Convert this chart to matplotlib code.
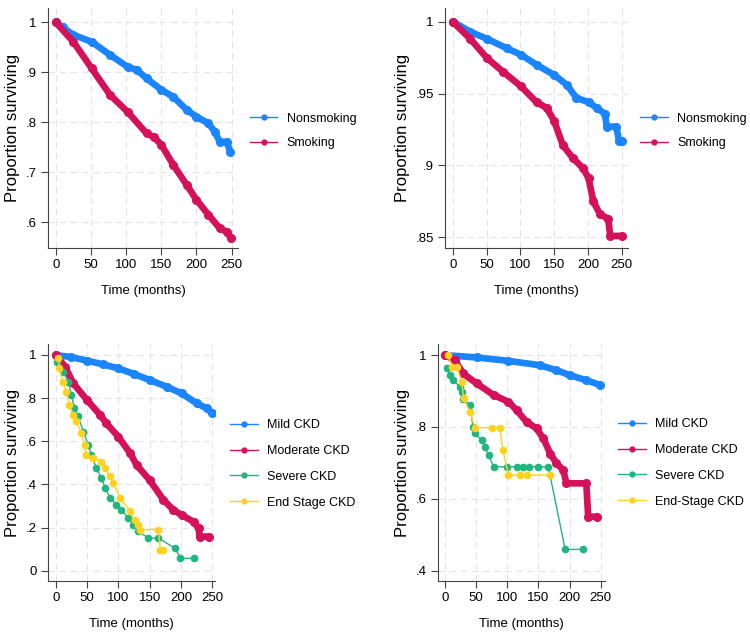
import numpy as np
import matplotlib
matplotlib.use("Agg")
import matplotlib.pyplot as plt
from matplotlib.lines import Line2D

plt.rcParams['font.family'] = ['Liberation Sans', 'DejaVu Sans']

BLUE = '#1a85ff'
RED = '#d41159'
GREEN = '#1fb67f'
YELLOW = '#ffd21f'

# --- panel 1: smoking vs nonsmoking ---
p1_nonsmk_t = [0, 10, 25, 51, 77, 102, 115, 129, 150, 167, 186, 200, 217, 226, 233, 243, 248]
p1_nonsmk_s = [1.0, 0.99, 0.975, 0.961, 0.935, 0.911, 0.905, 0.888, 0.865, 0.851, 0.825,
               0.811, 0.798, 0.781, 0.761, 0.761, 0.741]
p1_smk_t = [0, 25, 51, 77, 102, 129, 140, 150, 167, 186, 200, 217, 233, 243, 249]
p1_smk_s = [1.0, 0.961, 0.908, 0.855, 0.821, 0.778, 0.77, 0.755, 0.715, 0.675, 0.645,
            0.615, 0.588, 0.581, 0.568]

# --- panel 2: smoking vs nonsmoking (second outcome) ---
p2_nonsmk_t = [0, 26, 51, 80, 101, 124, 150, 169, 183, 201, 213, 225, 228, 242, 246, 250]
p2_nonsmk_s = [1.0, 0.993, 0.988, 0.9815, 0.977, 0.970, 0.963, 0.956, 0.947, 0.944,
               0.940, 0.936, 0.927, 0.927, 0.917, 0.917]
p2_smk_t = [0, 26, 51, 75, 101, 124, 139, 150, 163, 178, 193, 201, 208, 218, 230, 233, 250]
p2_smk_s = [1.0, 0.988, 0.9745, 0.965, 0.955, 0.944, 0.940, 0.931, 0.914, 0.905, 0.898,
            0.891, 0.875, 0.866, 0.863, 0.851, 0.851]

# --- panel 3: CKD stages ---
p3_mild_t = [0, 25, 50, 75, 100, 125, 150, 177, 201, 225, 241, 249]
p3_mild_s = [1.0, 0.99, 0.974, 0.957, 0.938, 0.912, 0.884, 0.853, 0.822, 0.776, 0.753, 0.733]
p3_mod_t = [0, 15, 28, 50, 71, 81, 100, 119, 129, 150, 172, 188, 201, 220, 228, 230, 244]
p3_mod_s = [1.0, 0.946, 0.869, 0.791, 0.722, 0.683, 0.621, 0.544, 0.49, 0.42, 0.328,
            0.281, 0.258, 0.227, 0.196, 0.158, 0.158]
p3_sev_t = [2, 12, 20, 25, 30, 36, 44, 52, 57, 65, 73, 79, 87, 97, 105, 116, 124, 132,
            148, 164, 191, 199, 220]
p3_sev_s = [0.969, 0.923, 0.877, 0.815, 0.753, 0.715, 0.645, 0.583, 0.537, 0.475, 0.429,
            0.383, 0.337, 0.306, 0.282, 0.244, 0.213, 0.182, 0.151, 0.151, 0.103, 0.057, 0.057]
p3_end_t = [4, 6, 11, 17, 22, 28, 33, 41, 46, 49, 60, 73, 79, 87, 92, 103, 119, 127, 132,
            135, 164, 167, 172]
p3_end_s = [0.985, 0.938, 0.877, 0.830, 0.769, 0.722, 0.692, 0.638, 0.583, 0.537, 0.522,
            0.506, 0.475, 0.437, 0.406, 0.337, 0.275, 0.236, 0.213, 0.19, 0.19, 0.097, 0.097]

# --- panel 4: CKD stages (second outcome) ---
p4_mild_t = [0, 51, 102, 152, 179, 201, 227, 249]
p4_mild_s = [1.0, 0.9935, 0.984, 0.972, 0.958, 0.944, 0.930, 0.917]
p4_mod_t = [0, 16, 29, 51, 78, 102, 115, 131, 147, 158, 169, 179, 190, 195, 227, 230, 244]
p4_mod_s = [1.0, 0.986, 0.949, 0.921, 0.889, 0.870, 0.847, 0.814, 0.796, 0.768, 0.726,
            0.699, 0.68, 0.643, 0.643, 0.55, 0.55]
p4_sev_t = [4, 8, 13, 24, 27, 29, 40, 45, 48, 59, 64, 70, 78, 100, 115, 125, 135, 150, 166, 193, 221]
p4_sev_s = [0.963, 0.944, 0.930, 0.912, 0.898, 0.879, 0.861, 0.80, 0.782, 0.763, 0.745,
            0.722, 0.689, 0.689, 0.689, 0.689, 0.689, 0.689, 0.689, 0.459, 0.459]
p4_end_t = [5, 11, 19, 27, 30, 40, 48, 75, 88, 93, 102, 120, 131, 169]
p4_end_s = [1.0, 0.968, 0.968, 0.926, 0.88, 0.842, 0.798, 0.798, 0.798, 0.736, 0.666,
            0.666, 0.666, 0.666]

x_ticks = [0, 50, 100, 150, 200, 250]
p1_yticks = [0.6, 0.7, 0.8, 0.9, 1.0]
p1_ylabels = ['.6', '.7', '.8', '.9', '1']
p2_yticks = [0.85, 0.9, 0.95, 1.0]
p2_ylabels = ['.85', '.9', '.95', '1']
p3_yticks = [0, 0.2, 0.4, 0.6, 0.8, 1.0]
p3_ylabels = ['0', '.2', '.4', '.6', '.8', '1']
p4_yticks = [0.4, 0.6, 0.8, 1.0]
p4_ylabels = ['.4', '.6', '.8', '1']

smoke_labels = ['Nonsmoking', 'Smoking']
ckd3_labels = ['Mild CKD', 'Moderate CKD', 'Severe CKD', 'End Stage CKD']
ckd4_labels = ['Mild CKD', 'Moderate CKD', 'Severe CKD', 'End-Stage CKD']

fig = plt.figure(figsize=(7.5, 6.38), dpi=100)


def style_axes(ax, xlim, ylim, yticks, ylabels, ylab_x):
    ax.set_xlim(*xlim)
    ax.set_ylim(*ylim)
    ax.set_xticks(x_ticks)
    ax.set_xticklabels([str(t) for t in x_ticks])
    ax.set_yticks(yticks)
    ax.set_yticklabels(ylabels)
    ax.tick_params(labelsize=9.5, length=5, width=0.8, color='#444444', pad=3)
    for s in ['top', 'right']:
        ax.spines[s].set_visible(False)
    for s in ['left', 'bottom']:
        ax.spines[s].set_color('#444444')
        ax.spines[s].set_linewidth(0.8)
    ax.grid(True, color='#e4e4e4', linestyle=(0, (6, 4)), linewidth=0.8)
    ax.set_axisbelow(True)
    ax.set_xlabel('Time (months)', fontsize=9.5, labelpad=10)
    ax.set_ylabel('Proportion surviving', fontsize=12)
    ax.yaxis.set_label_coords(ylab_x, 0.5)


def dense(ax, t, s, c):
    ax.plot(t, s, color=c, lw=4.8, solid_capstyle='round', solid_joinstyle='round',
            marker='o', ms=5.5, mfc=c, mec=c)


def sparse(ax, t, s, c):
    ax.plot(t, s, color=c, lw=1.0, marker='o', ms=4.5, mfc=c, mec=c)


def legend(ax, colors, labels, x, y, spacing):
    handles = [Line2D([0], [0], color=c, lw=1.0, marker='o', ms=3.5, mfc=c, mec=c)
               for c in colors]
    ax.legend(handles, labels, loc='center left', bbox_to_anchor=(x, y),
              frameon=False, fontsize=9, borderpad=0, borderaxespad=0,
              handlelength=2.2, handletextpad=0.75, labelspacing=spacing)


ax1 = fig.add_axes([48 / 750, 1 - 248 / 638, 190 / 750, 240 / 638])
dense(ax1, p1_nonsmk_t, p1_nonsmk_s, BLUE)
dense(ax1, p1_smk_t, p1_smk_s, RED)
style_axes(ax1, (-11, 259), (0.5486, 1.0286), p1_yticks, p1_ylabels, -0.145)
legend(ax1, [BLUE, RED], smoke_labels, 1.063, 0.4875, 1.0)

ax2 = fig.add_axes([445 / 750, 1 - 248 / 638, 183 / 750, 240 / 638])
dense(ax2, p2_nonsmk_t, p2_nonsmk_s, BLUE)
dense(ax2, p2_smk_t, p2_smk_s, RED)
style_axes(ax2, (-11.4, 259.3), (0.8426, 1.0095), p2_yticks, p2_ylabels, -0.19)
legend(ax2, [BLUE, RED], smoke_labels, 1.066, 0.4875, 1.0)

ax3 = fig.add_axes([48 / 750, 1 - 581 / 638, 167 / 750, 237 / 638])
dense(ax3, p3_mild_t, p3_mild_s, BLUE)
dense(ax3, p3_mod_t, p3_mod_s, RED)
sparse(ax3, p3_sev_t, p3_sev_s, GREEN)
sparse(ax3, p3_end_t, p3_end_s, YELLOW)
style_axes(ax3, (-12.3, 254.3), (-0.048, 1.051), p3_yticks, p3_ylabels, -0.165)
legend(ax3, [BLUE, RED, GREEN, YELLOW], ckd3_labels, 1.09, 0.494, 1.1)

ax4 = fig.add_axes([438 / 750, 1 - 581 / 638, 167 / 750, 237 / 638])
dense(ax4, p4_mild_t, p4_mild_s, BLUE)
dense(ax4, p4_mod_t, p4_mod_s, RED)
sparse(ax4, p4_sev_t, p4_sev_s, GREEN)
sparse(ax4, p4_end_t, p4_end_s, YELLOW)
style_axes(ax4, (-11.2, 257), (0.371, 1.031), p4_yticks, p4_ylabels, -0.165)
legend(ax4, [BLUE, RED, GREEN, YELLOW], ckd4_labels, 1.078, 0.498, 1.1)

fig.savefig('out.png', dpi=100)
